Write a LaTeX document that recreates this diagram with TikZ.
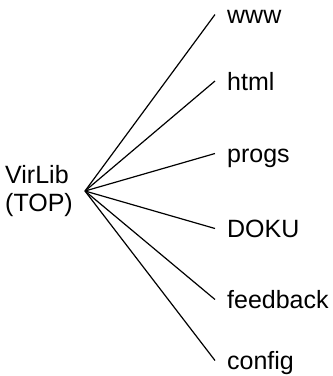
\documentclass[tikz,border=0pt]{standalone}
\usepackage{fontspec}
\setmainfont{Liberation Sans}
\begin{document}
\begin{tikzpicture}[x=1pt,y=1pt,
  every node/.style={font=\fontsize{25}{28}\selectfont},
  rootnode/.style={align=left,anchor=east,inner xsep=12pt,inner ysep=0pt},
  leaf/.style={anchor=west,inner xsep=12pt,inner ysep=0pt,text height=18pt,text depth=0pt},
  branch/.style={line width=1.2pt}]
  \useasboundingbox (0,0) rectangle (333,-376);
  % directory root
  \node[rootnode] (top) at (85,-191) {VirLib\\(TOP)};
  % subdirectories
  \node[leaf] (www)      at (215,-14.5)  {www};
  \node[leaf] (html)     at (215,-81)    {html};
  \node[leaf] (progs)    at (215,-153.5) {progs};
  \node[leaf] (doku)     at (215,-228.5) {DOKU};
  \node[leaf] (feedback) at (215,-299.5) {feedback};
  \node[leaf] (config)   at (215,-360.5) {config};
  % branches
  \foreach \c in {www,html,progs,doku,feedback,config}
    \draw[branch] (top.east) -- (\c.west);
\end{tikzpicture}
\end{document}
